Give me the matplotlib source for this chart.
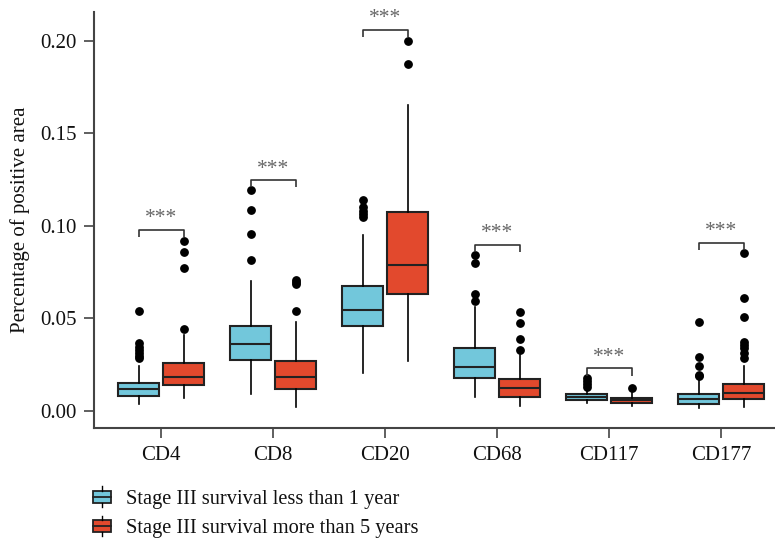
import matplotlib
matplotlib.use("Agg")
import matplotlib.pyplot as plt
from matplotlib.patches import Rectangle
from matplotlib.lines import Line2D
from matplotlib.legend_handler import HandlerBase

plt.rcParams['font.family'] = ['Liberation Serif', 'DejaVu Serif']

categories = ["CD4", "CD8", "CD20", "CD68", "CD117", "CD177"]
series_names = ["Stage III survival less than 1 year", "Stage III survival more than 5 years"]
colors = ["#72C7DB", "#E2492D"]

# box stats per category: (whislo, q1, med, q3, whishi)
short_stats = [
    (0.0035, 0.0080, 0.0119, 0.0148, 0.0243),
    (0.0089, 0.0274, 0.0359, 0.0460, 0.0702),
    (0.0202, 0.0457, 0.0543, 0.0675, 0.0950),
    (0.0076, 0.0179, 0.0235, 0.0341, 0.0563),
    (0.0040, 0.0058, 0.0072, 0.0089, 0.0110),
    (0.0013, 0.0035, 0.0063, 0.0092, 0.0166),
]
short_fliers = [
    [0.0283, 0.0295, 0.0310, 0.0330, 0.0347, 0.0365, 0.0541],
    [0.0815, 0.0958, 0.1084, 0.1192],
    [0.1046, 0.1065, 0.1082, 0.1100, 0.1140],
    [0.0595, 0.0631, 0.0800, 0.0842],
    [0.0130, 0.0145, 0.0160, 0.0175],
    [0.0185, 0.0193, 0.0243, 0.0290, 0.0482],
]
long_stats = [
    (0.0067, 0.0139, 0.0181, 0.0256, 0.0410),
    (0.0022, 0.0116, 0.0181, 0.0269, 0.0480),
    (0.0269, 0.0630, 0.0787, 0.1073, 0.1654),
    (0.0027, 0.0076, 0.0121, 0.0173, 0.0300),
    (0.0025, 0.0040, 0.0056, 0.0070, 0.0094),
    (0.0018, 0.0062, 0.0097, 0.0143, 0.0243),
]
long_fliers = [
    [0.0440, 0.0774, 0.0857, 0.0916],
    [0.0541, 0.0686, 0.0697, 0.0707],
    [0.1874, 0.2000],
    [0.0328, 0.0388, 0.0476, 0.0536],
    [0.0121],
    [0.0283, 0.0310, 0.0338, 0.0356, 0.0373, 0.0509, 0.0608, 0.0852],
]
# significance brackets: bracket height per category
sig_heights = [0.0978, 0.1248, 0.2060, 0.0898, 0.0229, 0.0909]
sig_labels = ["***"] * 6

def make_stats(stats, fliers):
    out = []
    for (lo, q1, med, q3, hi), fl in zip(stats, fliers):
        out.append(dict(whislo=lo, q1=q1, med=med, q3=q3, whishi=hi, fliers=fl))
    return out

W, H = 775, 539
fig = plt.figure(figsize=(W / 100, H / 100), dpi=100)
ax = fig.add_axes([94 / W, 1 - 427.7 / H, 1 - 94 / W, (427.7 - 12) / H])

offset = 0.2
bw = 0.366
pos = list(range(1, len(categories) + 1))
edge = "#222222"
for k, (st, fl) in enumerate([(short_stats, short_fliers), (long_stats, long_fliers)]):
    p = [x + (offset if k else -offset) for x in pos]
    ax.bxp(make_stats(st, fl), positions=p, widths=bw, patch_artist=True,
           showcaps=False,
           boxprops=dict(facecolor=colors[k], edgecolor=edge, linewidth=1.5),
           medianprops=dict(color=edge, linewidth=1.5),
           whiskerprops=dict(color="black", linewidth=1.2),
           flierprops=dict(marker="o", markerfacecolor="black", markeredgecolor="black",
                           markersize=5.3, linestyle="none"))

drop = 0.004
for x, h, lab in zip(pos, sig_heights, sig_labels):
    ax.plot([x - offset, x - offset, x + offset, x + offset], [h - drop, h, h, h - drop],
            color="#333333", linewidth=1.2, solid_capstyle="butt")
    ax.text(x, h + 0.0008, lab, ha="center", va="bottom", fontsize=15.5, color="#666666")

ax.set_xlim(0.40, 6.48)
ax.set_ylim(-0.0092, 0.2157)
ax.set_xticks(pos)
ax.set_xticklabels(categories)
ax.set_yticks([0.00, 0.05, 0.10, 0.15, 0.20])
ax.set_yticklabels(["0.00", "0.05", "0.10", "0.15", "0.20"])
for s in ["top", "right"]:
    ax.spines[s].set_visible(False)
for s in ["left", "bottom"]:
    ax.spines[s].set_color("#444444")
    ax.spines[s].set_linewidth(1.5)
ax.tick_params(axis="both", length=7.5, width=1.2, color="#444444", labelsize=15, labelcolor="#111111")
ax.tick_params(axis="x", pad=6)
ax.tick_params(axis="y", pad=5)
ax.set_ylabel("Percentage of positive area", fontsize=15, color="#111111", labelpad=7)


class BoxHandler(HandlerBase):
    def __init__(self, color):
        super().__init__()
        self.color = color

    def create_artists(self, legend, orig_handle, xdescent, ydescent, width, height, fontsize, trans):
        bh = height
        y0 = -ydescent
        x0 = -xdescent
        rect = Rectangle((x0, y0), width, bh, facecolor=self.color, edgecolor=edge,
                         linewidth=1.3, transform=trans)
        med = Line2D([x0, x0 + width], [y0 + bh / 2] * 2, color=edge, linewidth=1.3, transform=trans)
        wt = Line2D([x0 + width / 2] * 2, [y0 + bh, y0 + bh + 3], color="black", linewidth=1.0, transform=trans)
        wb = Line2D([x0 + width / 2] * 2, [y0 - 3, y0], color="black", linewidth=1.0, transform=trans)
        return [rect, med, wt, wb]


handles = [Rectangle((0, 0), 1, 1), Rectangle((0, 1), 1, 1)]
leg = fig.legend(handles, series_names, loc="upper left", bbox_to_anchor=(93 / W, 1 - 490 / H),
                 frameon=False, fontsize=14.7, handlelength=0.88, handleheight=0.55, handletextpad=0.72,
                 labelspacing=0.5, borderpad=0, borderaxespad=0,
                 handler_map={handles[0]: BoxHandler(colors[0]), handles[1]: BoxHandler(colors[1])})
for t in leg.get_texts():
    t.set_color("#111111")

fig.savefig("out.png", dpi=100)
